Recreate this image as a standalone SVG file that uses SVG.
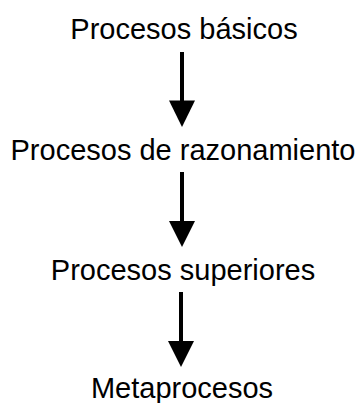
<svg xmlns="http://www.w3.org/2000/svg" width="362" height="403" viewBox="0 0 362 403">
<defs>
<style>
text{font-family:"Liberation Sans",Arial,sans-serif;font-size:29px;fill:#000;text-anchor:middle}
.c line{stroke:#000;stroke-width:4}
.c polygon{fill:#000}
</style>
</defs>
<rect width="362" height="403" fill="#fff"/>
<g id="n1"><text x="184" y="39">Procesos básicos</text></g>
<g id="n2"><text x="183" y="160">Procesos de razonamiento</text></g>
<g id="n3"><text x="183" y="280">Procesos superiores</text></g>
<g id="n4"><text x="182" y="398">Metaprocesos</text></g>
<g id="connectors" class="c">
<line x1="182" y1="52" x2="182" y2="103"/>
<polygon points="169,100.5 195,100.5 182,127"/>
<line x1="182" y1="172" x2="182" y2="224"/>
<polygon points="169,221 195,221 182,247"/>
<line x1="181" y1="292" x2="181" y2="344"/>
<polygon points="168,341 194,341 181,367"/>
</g>
</svg>
